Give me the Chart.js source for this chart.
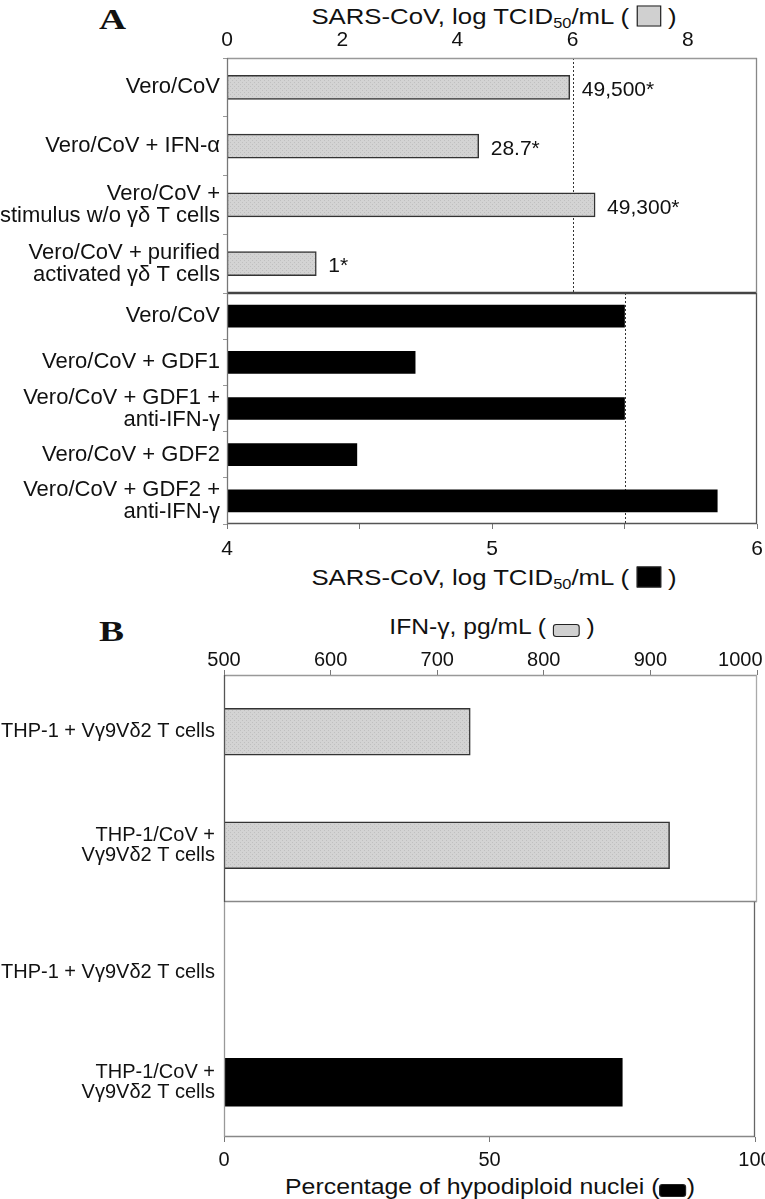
<!DOCTYPE html>
<html>
<head>
<meta charset="utf-8">
<script src="https://cdn.jsdelivr.net/npm/chart.js@4.4.1/dist/chart.umd.min.js"></script>
<style>
  body { margin: 0; background: #fff; width: 765px; height: 1199px; position: relative; overflow: hidden;
         font-family: "Liberation Sans", Arial, sans-serif; color: #111; }
  .box { position: absolute; left: 0; }
  .ttl { position: absolute; white-space: nowrap; font-size: 22px; }
  .ttl sub { font-size: 14px; vertical-align: -4px; }
  .panel { position: absolute; font-family: "Liberation Serif", "Times New Roman", serif; font-weight: bold; font-size: 30px; transform: scaleX(1.25); transform-origin: left top; }
  .sw { display: inline-block; vertical-align: -3px; border: 1.5px solid #222; }
</style>
</head>
<body>
<div class="panel" style="left:99px;top:2px">A</div>
<div class="ttl" style="left:494px;top:17px;transform:translate(-50%,-50%) scaleX(1.17)">SARS-CoV, log TCID<sub>50</sub>/mL ( <span class="sw" style="width:19px;height:19px;background:#d0d0d0"></span> )</div>
<div class="ttl" style="left:494px;top:578px;transform:translate(-50%,-50%) scaleX(1.17)">SARS-CoV, log TCID<sub>50</sub>/mL ( <span class="sw" style="width:19px;height:19px;background:#000"></span> )</div>
<div class="panel" style="left:99px;top:614px">B</div>
<div class="ttl" style="left:492px;top:627px;transform:translate(-50%,-50%) scaleX(1.12)">IFN-γ, pg/mL ( <span class="sw" style="width:22px;height:11px;border-radius:3px;background:#d0d0d0"></span> )</div>
<div class="ttl" style="left:490px;top:1187px;transform:translate(-50%,-50%) scaleX(1.13)">Percentage of hypodiploid nuclei (<span class="sw" style="width:22px;height:11px;border-radius:3px;background:#000"></span>)</div>

<div class="box" style="top:0px"><canvas id="a1" width="765" height="300"></canvas></div>
<div class="box" style="top:293px"><canvas id="a2" width="765" height="300"></canvas></div>
<div class="box" style="top:610px"><canvas id="b1" width="765" height="300"></canvas></div>
<div class="box" style="top:902px"><canvas id="b2" width="765" height="297"></canvas></div>

<script>
// panel A, gray bars (top axis)
const groupsA1 = ['Vero/CoV', 'Vero/CoV + IFN-α', ['Vero/CoV +', 'stimulus w/o γδ T cells'], ['Vero/CoV + purified', 'activated γδ T cells']];
const titersA1 = [5.95, 4.37, 6.39, 1.55];
const notesA1 = ['49,500*', '28.7*', '49,300*', '1*'];
const refA1 = 6;

// panel A, black bars (bottom axis)
const groupsA2 = ['Vero/CoV', 'Vero/CoV + GDF1', ['Vero/CoV + GDF1 +', 'anti-IFN-γ'], 'Vero/CoV + GDF2', ['Vero/CoV + GDF2 +', 'anti-IFN-γ']];
const titersA2 = [5.50, 4.71, 5.50, 4.49, 5.85];
const refA2 = 5.5;

// panel B
const groupsB = ['THP-1 + Vγ9Vδ2 T cells', ['THP-1/CoV +', 'Vγ9Vδ2 T cells']];
const ifnB = [731, 918];
const hypodiploidB = [0, 75];

Chart.defaults.font.family = '"Liberation Sans", Arial, sans-serif';
Chart.defaults.color = '#111';
Chart.defaults.devicePixelRatio = 1;

// light gray stippled fill
const pc = document.createElement('canvas');
pc.width = 4; pc.height = 4;
const px = pc.getContext('2d');
px.fillStyle = '#d3d3d3'; px.fillRect(0, 0, 4, 4);
px.fillStyle = '#bfbfbf'; px.fillRect(0, 0, 1, 1); px.fillRect(2, 2, 1, 1);
const grayFill = px.createPattern(pc, 'repeat');

const frame = {
  id: 'frame',
  afterDatasetsDraw(chart, args, o) {
    const {ctx, chartArea: a} = chart;
    const top = o.fromTop ? 0 : a.top;
    ctx.save();
    ctx.lineWidth = 1.3;
    const side = (c, x1, y1, x2, y2) => {
      if (!c) return;
      ctx.strokeStyle = c; ctx.beginPath(); ctx.moveTo(x1, y1); ctx.lineTo(x2, y2); ctx.stroke();
    };
    side(o.top, a.left, a.top + 0.5, a.right, a.top + 0.5);
    side(o.bottom, a.left, a.bottom - 0.5, a.right, a.bottom - 0.5);
    side(o.left, a.left + 0.5, top, a.left + 0.5, a.bottom);
    side(o.right, a.right - 0.5, top, a.right - 0.5, a.bottom);
    ctx.restore();
  }
};

const refLine = {
  id: 'refLine',
  beforeDatasetsDraw(chart, args, o) {
    if (o.value == null) return;
    const {ctx, chartArea: a} = chart;
    const x = Math.round(chart.scales.x.getPixelForValue(o.value)) + 0.5;
    ctx.save();
    ctx.strokeStyle = '#333';
    ctx.lineWidth = 1;
    ctx.setLineDash([2, 2]);
    ctx.beginPath(); ctx.moveTo(x, a.top); ctx.lineTo(x, a.bottom); ctx.stroke();
    ctx.restore();
  }
};

const barNotes = {
  id: 'barNotes',
  afterDatasetsDraw(chart, args, o) {
    if (!o.notes) return;
    const {ctx} = chart;
    ctx.save();
    ctx.font = '21px "Liberation Sans", Arial, sans-serif';
    ctx.fillStyle = '#111';
    ctx.textBaseline = 'middle';
    chart.getDatasetMeta(0).data.forEach((bar, i) => {
      ctx.fillText(o.notes[i], bar.x + 12, bar.y + 3);
    });
    ctx.restore();
  }
};

function barChart(id, cfg) {
  return new Chart(document.getElementById(id), {
    type: 'bar',
    data: {
      labels: cfg.labels,
      datasets: [{
        data: cfg.values,
        backgroundColor: cfg.fill,
        borderColor: cfg.edge,
        borderWidth: cfg.edgeWidth,
        borderSkipped: false,
        barThickness: cfg.thickness
      }]
    },
    plugins: [frame, refLine, barNotes],
    options: {
      indexAxis: 'y',
      responsive: false,
      animation: false,
      layout: { padding: cfg.padding },
      plugins: {
        legend: { display: false },
        tooltip: { enabled: false },
        frame: cfg.frame,
        refLine: { value: cfg.ref },
        barNotes: { notes: cfg.notes }
      },
      scales: {
        x: {
          type: 'linear',
          position: cfg.position,
          min: cfg.min, max: cfg.max,
          afterFit(s) { s.height = cfg.axisHeight; s.paddingLeft = 0; s.paddingRight = 0; },
          afterBuildTicks(s) { s.ticks = cfg.ticks.map(v => ({value: v})); },
          ticks: {
            font: { size: cfg.tickFont },
            padding: cfg.tickPad,
            maxRotation: 0,
            autoSkip: false,
            callback: cfg.tickText
          },
          grid: { drawOnChartArea: false, tickLength: cfg.tickLen, color: '#777', display: cfg.tickLen > 0 },
          border: { display: false }
        },
        y: {
          afterFit(s) { s.width = cfg.labelWidth; s.paddingTop = 0; s.paddingBottom = 0; },
          ticks: { font: { size: cfg.labelFont, lineHeight: 1.0 }, padding: cfg.labelPad, color: '#111', autoSkip: false },
          grid: { offset: true, drawOnChartArea: false, tickLength: cfg.yTick, color: '#999', display: cfg.yTick > 0 },
          border: { display: false }
        }
      }
    }
  });
}

barChart('a1', {
  labels: groupsA1, values: titersA1, notes: notesA1, ref: refA1,
  fill: grayFill, edge: '#333', edgeWidth: 1.5, thickness: 24,
  position: 'top', min: 0, max: 9.2, ticks: [0, 2, 4, 6, 8],
  tickText: v => v, tickFont: 21, tickLen: 0, tickPad: 5, axisHeight: 58,
  labelWidth: 227, labelFont: 22, labelPad: 3, yTick: 4,
  padding: { top: 0, right: 8, bottom: 7, left: 0 },
  frame: { top: '#999', right: '#888', bottom: '#444', left: '#777' }
});

barChart('a2', {
  labels: groupsA2, values: titersA2, ref: refA2,
  fill: '#000', edge: '#000', edgeWidth: 0, thickness: 22,
  position: 'bottom', min: 4, max: 6, ticks: [4, 4.5, 5, 5.5, 6],
  tickText: v => (v % 1 === 0 ? v : ''), tickFont: 21, tickLen: 5, tickPad: 8, axisHeight: 69,
  labelWidth: 227, labelFont: 22, labelPad: 3, yTick: 4,
  padding: { top: 0, right: 8, bottom: 0, left: 0 },
  frame: { top: '#444', right: '#555', bottom: '#555', left: '#777' }
});

barChart('b1', {
  labels: groupsB, values: ifnB,
  fill: grayFill, edge: '#333', edgeWidth: 1.5, thickness: 47,
  position: 'top', min: 500, max: 1000, ticks: [500, 600, 700, 800, 900, 1000],
  tickText: v => (v === 1000 ? '1000\u2007\u2007\u2007' : v), tickFont: 20, tickLen: 5, tickPad: -2, axisHeight: 65,
  labelWidth: 224, labelFont: 20, labelPad: 9, yTick: 0,
  padding: { top: 0, right: 8, bottom: 8, left: 0 },
  frame: { top: '#999', right: '#aaa', bottom: '#888', left: '#555' }
});

barChart('b2', {
  labels: groupsB, values: hypodiploidB,
  fill: '#000', edge: '#000', edgeWidth: 0, thickness: 48,
  position: 'bottom', min: 0, max: 100, ticks: [0, 50, 100],
  tickText: v => v, tickFont: 20, tickLen: 5, tickPad: 6, axisHeight: 62,
  labelWidth: 224, labelFont: 20, labelPad: 9, yTick: 0,
  padding: { top: 16, right: 10, bottom: 0, left: 0 },
  frame: { right: '#666', bottom: '#888', left: '#999', fromTop: true }
});
</script>
</body>
</html>
